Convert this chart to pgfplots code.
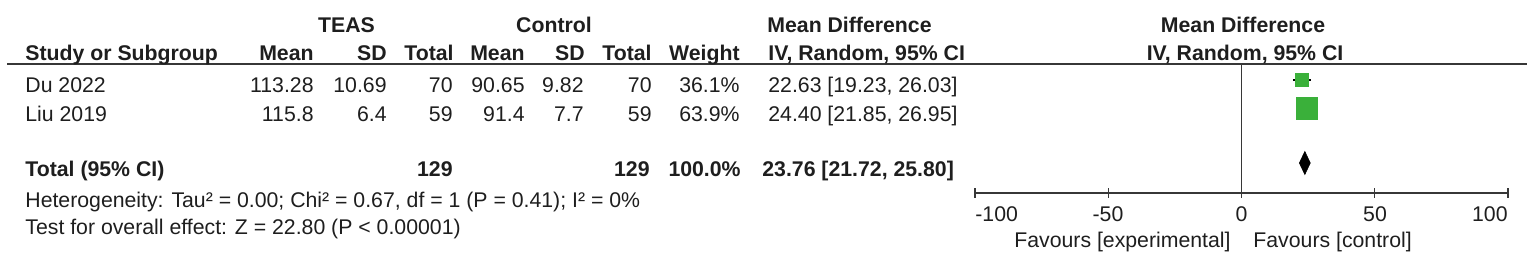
\documentclass[border=0pt]{standalone}
\usepackage{fontspec}
\setmainfont{Liberation Sans}
\usepackage{pgfplots}
\pgfplotsset{compat=1.18}
\definecolor{txt}{RGB}{30,30,30}
\definecolor{rulec}{RGB}{55,55,55}
\definecolor{fgreen}{RGB}{58,176,58}
\pgfplotstableread{
x y size
22.63 -80 3.3
24.40 -108.5 5.3
}\studies
\begin{document}
\begin{tikzpicture}[x=0.5pt,y=-0.5pt,
  t/.style={inner sep=0pt, text=txt, font=\fontsize{10.63}{12.5}\selectfont},
  b/.style={inner sep=0pt, text=txt, font=\fontsize{10.63}{12.5}\selectfont\bfseries}]
\useasboundingbox (0,0) rectangle (1535,271);
% header rule
\draw[rulec, line width=1pt] (7,64) -- (1527,64);
% header row 1
\node[b,anchor=base] at (346.5,33) {TEAS};
\node[b,anchor=base] at (554,33) {Control};
\node[b,anchor=base west] at (767,33) {Mean Difference};
\node[b,anchor=base] at (1243,33) {Mean Difference};
% header row 2
\node[b,anchor=base west] at (25,61) {Study or Subgroup};
\node[b,anchor=base east] at (314,61) {Mean};
\node[b,anchor=base east] at (387,61) {SD};
\node[b,anchor=base east] at (454,61) {Total};
\node[b,anchor=base east] at (525,61) {Mean};
\node[b,anchor=base east] at (585,61) {SD};
\node[b,anchor=base east] at (652,61) {Total};
\node[b,anchor=base east] at (740,61) {Weight};
\node[b,anchor=base west] at (768,61) {IV, Random, 95\% CI};
\node[b,anchor=base] at (1245,61) {IV, Random, 95\% CI};
% Du 2022
\node[t,anchor=base west] at (25,93) {Du 2022};
\node[t,anchor=base east] at (314,93) {113.28};
\node[t,anchor=base east] at (387,93) {10.69};
\node[t,anchor=base east] at (453,93) {70};
\node[t,anchor=base east] at (525,93) {90.65};
\node[t,anchor=base east] at (584,93) {9.82};
\node[t,anchor=base east] at (652,93) {70};
\node[t,anchor=base east] at (740,93) {36.1\%};
\node[t,anchor=base west] at (768,93) {22.63 [19.23, 26.03]};
% Liu 2019
\node[t,anchor=base west] at (25,121.5) {Liu 2019};
\node[t,anchor=base east] at (314,121.5) {115.8};
\node[t,anchor=base east] at (387,121.5) {6.4};
\node[t,anchor=base east] at (453,121.5) {59};
\node[t,anchor=base east] at (525,121.5) {91.4};
\node[t,anchor=base east] at (584,121.5) {7.7};
\node[t,anchor=base east] at (652,121.5) {59};
\node[t,anchor=base east] at (740,121.5) {63.9\%};
\node[t,anchor=base west] at (768,121.5) {24.40 [21.85, 26.95]};
% Total
\node[b,anchor=base west] at (25,176.5) {Total (95\% CI)};
\node[b,anchor=base east] at (453,176.5) {129};
\node[b,anchor=base east] at (650,176.5) {129};
\node[b,anchor=base east] at (741,176.5) {100.0\%};
\node[b,anchor=base west] at (762,176.5) {23.76 [21.72, 25.80]};
% notes
\node[t,anchor=base west] at (25,207.5) {Heterogeneity: Tau² = 0.00; Chi² = 0.67, df = 1 (P = 0.41); I² = 0\%};
\node[t,anchor=base west] at (25,235) {Test for overall effect: Z = 22.80 (P < 0.00001)};
% favours
\node[t,anchor=base east] at (1231,248) {Favours [experimental]};
\node[t,anchor=base west] at (1253,248) {Favours [control]};
% tick labels
\node[t,anchor=base west] at (975,222) {-100};
\node[t,anchor=base] at (1108,222) {-50};
\node[t,anchor=base] at (1241.5,222) {0};
\node[t,anchor=base] at (1375,222) {50};
\node[t,anchor=base east] at (1508,222) {100};
\begin{axis}[at={(487.5pt,-96.5pt)}, anchor=south west, scale only axis,
  width=266.5pt, height=64.5pt, xmin=-100, xmax=100, ymin=-193, ymax=-64,
  axis x line*=bottom, axis y line=none, clip=false,
  xtick={-100,-50,0,50,100}, xticklabels={}, major tick length=5pt, tick align=center,
  x axis line style={rulec, line width=0.9pt}, xtick style={rulec, line width=0.7pt}]
\addplot[rulec, line width=0.65pt] coordinates {(0,-64) (0,-193)};
\addplot[black, line width=0.7pt] coordinates {(19.23,-80) (26.03,-80)};
\addplot[only marks, mark=square*, mark size=3.3pt, mark options={fill=fgreen, draw=fgreen, line width=0.4pt}] coordinates {(22.63,-80)};
\addplot[black, line width=0.7pt] coordinates {(21.85,-108.5) (26.95,-108.5)};
\addplot[only marks, mark=square*, mark size=5.3pt, mark options={fill=fgreen, draw=fgreen, line width=0.4pt}] coordinates {(24.40,-108.5)};
\addplot[fill=black, draw=black, line width=0.3pt] coordinates {(21.72,-163) (23.76,-151.5) (25.80,-163) (23.76,-174.5)} -- cycle;
\end{axis}
\end{tikzpicture}
\end{document}
